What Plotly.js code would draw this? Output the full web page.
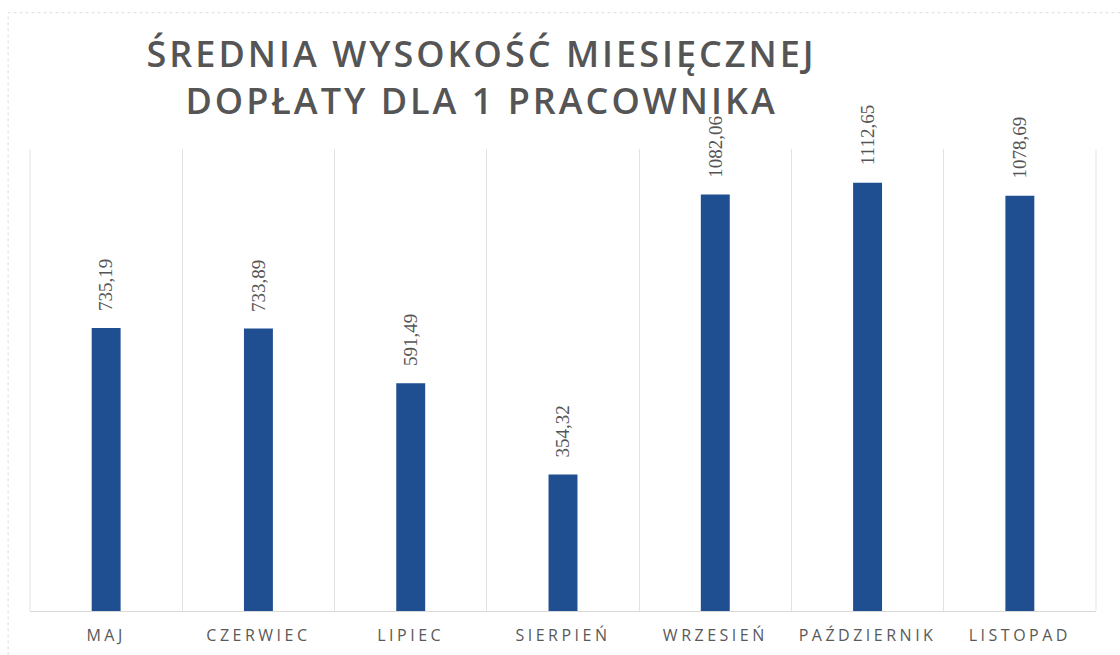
<!DOCTYPE html>
<html>
<head>
<meta charset="utf-8">
<script src="https://cdn.plot.ly/plotly-3.0.1.min.js"></script>
<style>
  html, body { margin: 0; padding: 0; background: #fff; }
  #chart { width: 1120px; height: 655px; }
  .xtick text { letter-spacing: 3.5px; }
  .gtitle { letter-spacing: 3px; }
</style>
</head>
<body>
<div id="chart"></div>
<script>
const months = ['MAJ', 'CZERWIEC', 'LIPIEC', 'SIERPIEŃ', 'WRZESIEŃ', 'PAŹDZIERNIK', 'LISTOPAD'];
const values = [735.19, 733.89, 591.49, 354.32, 1082.06, 1112.65, 1078.69];
const titleText = 'ŚREDNIA WYSOKOŚĆ MIESIĘCZNEJ<br>DOPŁATY DLA 1 PRACOWNIKA';

const barColor = '#1F4E91';

const trace = {
  type: 'bar',
  x: months,
  y: values,
  marker: { color: barColor },
  width: 0.19,
  hoverinfo: 'x+y'
};

const annotations = months.map((m, i) => ({
  x: m,
  y: values[i],
  xref: 'x',
  yref: 'y',
  text: values[i].toFixed(2).replace('.', ','),
  textangle: -90,
  showarrow: false,
  xanchor: 'center',
  yanchor: 'bottom',
  yshift: 15,
  font: { family: '"Liberation Serif", "Times New Roman", serif', size: 19, color: '#555555' }
}));

const layout = {
  width: 1120,
  height: 655,
  paper_bgcolor: '#ffffff',
  plot_bgcolor: '#ffffff',
  margin: { l: 30, r: 24, t: 149, b: 44 },
  title: {
    text: titleText,
    font: { family: '"Open Sans", sans-serif', size: 36, color: '#555555', weight: 600 },
    x: 0.43,
    xref: 'container',
    xanchor: 'center',
    y: 0.897,
    yref: 'container',
    yanchor: 'top'
  },
  xaxis: {
    type: 'category',
    tickson: 'boundaries',
    showgrid: true,
    gridcolor: '#e3e3e3',
    gridwidth: 1,
    ticks: '',
    showline: true,
    linecolor: '#d9d9d9',
    ticklabelstandoff: 10,
    tickfont: { family: '"Open Sans", sans-serif', size: 16, color: '#595959' },
    fixedrange: true
  },
  yaxis: {
    range: [0, 1200],
    showgrid: false,
    zeroline: false,
    showticklabels: false,
    ticks: '',
    fixedrange: true
  },
  annotations: annotations,
  shapes: [
    { type: 'rect', xref: 'paper', yref: 'paper', x0: -0.0205, x1: 1.03, y0: -0.2, y1: 1.295,
      line: { color: '#dddddd', width: 1, dash: 'dot' }, fillcolor: 'rgba(0,0,0,0)', layer: 'below' },
    { type: 'line', xref: 'paper', yref: 'paper', x0: 0, x1: 0, y0: 0, y1: 1,
      line: { color: '#e3e3e3', width: 1 }, layer: 'below' },
    { type: 'line', xref: 'paper', yref: 'paper', x0: 1, x1: 1, y0: 0, y1: 1,
      line: { color: '#e3e3e3', width: 1 }, layer: 'below' }
  ],
  showlegend: false
};

Plotly.newPlot('chart', [trace], layout, { displayModeBar: false, staticPlot: true });
</script>
</body>
</html>
